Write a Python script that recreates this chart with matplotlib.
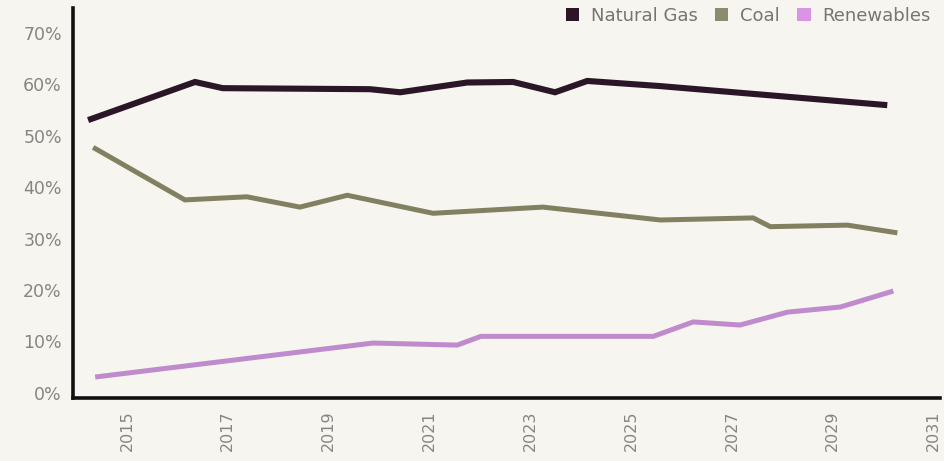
import matplotlib
matplotlib.use("Agg")
import matplotlib.pyplot as plt
from matplotlib.patches import Patch

# Data (x = fractional year, y = share in %)
gas_x = [2014.23, 2016.35, 2016.90, 2019.82, 2020.42, 2021.75, 2022.66, 2023.49, 2024.13, 2025.58, 2030.08]
gas_y = [53.0, 60.4, 59.2, 59.0, 58.4, 60.3, 60.4, 58.4, 60.6, 59.6, 55.9]

coal_x = [2014.33, 2016.15, 2017.38, 2018.43, 2019.37, 2021.07, 2023.25, 2025.58, 2027.42, 2027.76, 2029.29, 2030.28]
coal_y = [47.7, 37.5, 38.1, 36.1, 38.4, 34.9, 36.1, 33.6, 34.0, 32.3, 32.6, 31.1]

ren_x = [2014.37, 2019.88, 2021.55, 2022.02, 2025.44, 2026.23, 2027.16, 2028.10, 2029.15, 2030.20]
ren_y = [3.1, 9.7, 9.3, 11.0, 11.0, 13.8, 13.2, 15.7, 16.7, 19.8]

series_names = ["Natural Gas", "Coal", "Renewables"]
year_ticks = [2015, 2017, 2019, 2021, 2023, 2025, 2027, 2029, 2031]
pct_ticks = [0, 10, 20, 30, 40, 50, 60, 70]

c_gas = "#2b1628"
c_coal = "#818061"
c_ren = "#bf8bcc"
leg_gas = "#2d1527"
leg_coal = "#8c8b70"
leg_ren = "#d994e3"
bg = "#f7f5ef"
txt = "#878583"

fig = plt.figure(figsize=(9.44, 4.61), dpi=100, facecolor=bg)
ax = fig.add_axes([0.0773, 0.1367, 0.9187, 0.8463], facecolor=bg)

ax.plot(gas_x, gas_y, color=c_gas, lw=4.4, solid_joinstyle="miter", solid_capstyle="butt")
ax.plot(coal_x, coal_y, color=c_coal, lw=3.6, solid_joinstyle="miter", solid_capstyle="butt")
ax.plot(ren_x, ren_y, color=c_ren, lw=3.6, solid_joinstyle="miter", solid_capstyle="butt")

ax.set_xlim(2013.93, 2031.13)
ax.set_ylim(-0.97, 74.8)

ax.set_yticks(pct_ticks)
ax.set_yticklabels([f"{p}%" for p in pct_ticks], fontsize=12.5, color=txt, family="DejaVu Sans")
ax.set_xticks(year_ticks)
ax.set_xticklabels([str(y) for y in year_ticks], rotation=90, fontsize=11.5, color=txt, family="DejaVu Sans")
ax.tick_params(axis="both", length=0)
ax.tick_params(axis="y", pad=8)
ax.tick_params(axis="x", pad=9)

for s in ["top", "right"]:
    ax.spines[s].set_visible(False)
for s in ["left", "bottom"]:
    ax.spines[s].set_color("#141012")
    ax.spines[s].set_linewidth(2.6)

handles = [Patch(facecolor=leg_gas, edgecolor="none"),
           Patch(facecolor=leg_coal, edgecolor="none"),
           Patch(facecolor=leg_ren, edgecolor="none")]
leg = fig.legend(handles, series_names, loc="upper right", bbox_to_anchor=(0.986, 0.985),
                 ncol=3, frameon=False, fontsize=13, handlelength=0.75, handleheight=0.75,
                 handletextpad=0.65, columnspacing=0.95, borderaxespad=0.0, borderpad=0.0)
for t in leg.get_texts():
    t.set_color("#777573")

fig.savefig("out.png", dpi=100, facecolor=bg)
